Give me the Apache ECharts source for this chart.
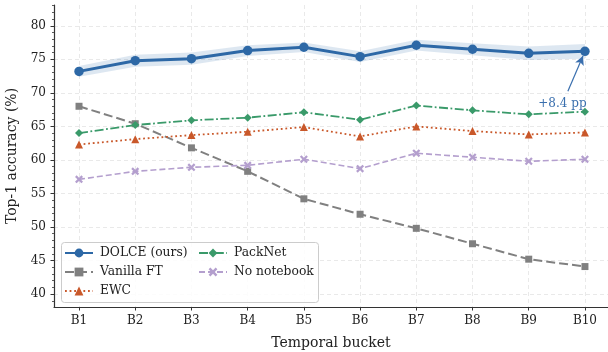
<!DOCTYPE html>
<html>
<head>
<meta charset="utf-8">
<script src="https://cdn.jsdelivr.net/npm/echarts@6/dist/echarts.min.js"></script>
<style>html,body{margin:0;padding:0;background:#fff;}#c{width:608px;height:352px;}</style>
</head>
<body>
<div id="c"></div>
<script>
const categories = ['B1','B2','B3','B4','B5','B6','B7','B8','B9','B10'];
const dolce    = [73.2, 74.8, 75.1, 76.3, 76.8, 75.4, 77.1, 76.5, 75.9, 76.2];
const dolceSd  = [0.8, 0.9, 0.9, 0.8, 0.7, 0.8, 0.8, 0.9, 1.0, 1.1];
const vanilla  = [68.0, 65.4, 61.8, 58.3, 54.2, 51.9, 49.8, 47.5, 45.2, 44.1];
const ewc      = [62.3, 63.1, 63.7, 64.2, 64.9, 63.5, 65.0, 64.3, 63.8, 64.1];
const packnet  = [64.0, 65.2, 65.9, 66.3, 67.1, 66.0, 68.1, 67.4, 66.8, 67.2];
const nonote   = [57.1, 58.3, 58.9, 59.2, 60.1, 58.7, 61.0, 60.4, 59.8, 60.1];
const yMajorTicks = [40, 45, 50, 55, 60, 65, 70, 75, 80];
const annotationText = '+8.4 pp';

const xs = categories.map((c, i) => i + 1);
const pairs = arr => arr.map((v, i) => [i + 1, v]);
const yMinor = [];
for (let v = 39; v <= 83; v++) if (v % 5 !== 0) yMinor.push(v);

const FONT = '"DejaVu Serif", serif';
const C_BLUE = '#2d68a6', C_GRAY = '#808080', C_RED = '#c9582a', C_GREEN = '#3a9a6a', C_PURPLE = '#b49fce';
const xMark = 'path://M2,0 L5,3 L8,0 L10,2 L7,5 L10,8 L8,10 L5,7 L2,10 L0,8 L3,5 L0,2 Z';

const chart = echarts.init(document.getElementById('c'), null, {renderer: 'canvas'});
const gridLine = {show: true, lineStyle: {color: '#e6e6e6', type: [4, 3], width: 0.9}};
chart.setOption({
  animation: false,
  backgroundColor: '#fff',
  grid: {left: 54, right: 0, top: 5, bottom: 45, containLabel: false, outerBoundsMode: 'none'},
  xAxis: {
    type: 'value', min: 0.555, max: 10.41,
    name: 'Temporal bucket', nameLocation: 'middle', nameGap: 29,
    nameTextStyle: {fontFamily: FONT, fontSize: 14, color: '#222'},
    axisLine: {show: true, lineStyle: {color: '#333', width: 1.2}},
    axisTick: {show: true, length: 3.5, customValues: xs, lineStyle: {color: '#333'}},
    axisLabel: {customValues: xs, formatter: v => categories[Math.round(v) - 1], fontFamily: FONT, fontSize: 12, color: '#222', margin: 8},
    splitLine: gridLine
  },
  yAxis: [{
    type: 'value', min: 38.07, max: 83.1, position: 'left',
    name: 'Top-1 accuracy (%)', nameLocation: 'middle', nameGap: 32,
    nameTextStyle: {fontFamily: FONT, fontSize: 14, color: '#222'},
    axisLine: {show: true, lineStyle: {color: '#333', width: 1.2}},
    axisTick: {show: true, length: 3.5, customValues: yMajorTicks, lineStyle: {color: '#333'}},
    axisLabel: {customValues: yMajorTicks, fontFamily: FONT, fontSize: 12, color: '#222', margin: 8},
    splitLine: gridLine
  }, {
    type: 'value', min: 38.07, max: 83.1, position: 'left',
    axisLine: {show: false},
    axisTick: {show: true, length: 2, customValues: yMinor, lineStyle: {color: '#333', width: 0.8}},
    axisLabel: {show: false},
    splitLine: {show: false}
  }],
  legend: [{
    data: ['DOLCE (ours)', 'Vanilla FT', 'EWC'], orient: 'vertical', left: 64, top: 247, padding: 0,
    itemWidth: 28, itemHeight: 11, itemGap: 7,
    textStyle: {fontFamily: FONT, fontSize: 12.3, color: '#222', padding: [0, 0, 0, 2]}
  }, {
    data: ['PackNet', 'No notebook'], orient: 'vertical', left: 198, top: 247, padding: 0,
    itemWidth: 28, itemHeight: 11, itemGap: 7,
    textStyle: {fontFamily: FONT, fontSize: 12.3, color: '#222', padding: [0, 0, 0, 2]}
  }],
  graphic: [{
    type: 'rect', left: 61, top: 242, z: 3, silent: true,
    shape: {width: 257, height: 60, r: 3},
    style: {fill: 'rgba(255,255,255,0.85)', stroke: '#cccccc', lineWidth: 1}
  }],
  series: [
    {
      type: 'custom', name: 'band', silent: true, z: 1,
      data: [0],
      renderItem: (params, api) => {
        const up = dolce.map((v, i) => api.coord([i + 1, v + dolceSd[i]]));
        const lo = dolce.map((v, i) => api.coord([i + 1, v - dolceSd[i]])).reverse();
        return {type: 'polygon', shape: {points: up.concat(lo)}, style: {fill: 'rgba(45,104,166,0.16)'}};
      }
    },
    {
      type: 'line', name: 'Vanilla FT', data: pairs(vanilla), z: 2,
      symbol: 'rect', symbolSize: 7,
      lineStyle: {color: C_GRAY, width: 2, type: [9, 4]}, itemStyle: {color: C_GRAY}
    },
    {
      type: 'line', name: 'EWC', data: pairs(ewc), z: 2,
      symbol: 'triangle', symbolSize: 8,
      lineStyle: {color: C_RED, width: 1.8, type: [1.8, 2.8]}, itemStyle: {color: C_RED}
    },
    {
      type: 'line', name: 'PackNet', data: pairs(packnet), z: 2,
      symbol: 'diamond', symbolSize: 8,
      lineStyle: {color: C_GREEN, width: 1.8, type: [9, 2.5, 1.8, 2.5]}, itemStyle: {color: C_GREEN}
    },
    {
      type: 'line', name: 'No notebook', data: pairs(nonote), z: 2,
      symbol: xMark, symbolSize: 8,
      lineStyle: {color: C_PURPLE, width: 1.6, type: [6, 3]}, itemStyle: {color: C_PURPLE}
    },
    {
      type: 'line', name: 'DOLCE (ours)', data: pairs(dolce), z: 2.5,
      symbol: 'circle', symbolSize: 9.5,
      lineStyle: {color: C_BLUE, width: 3}, itemStyle: {color: C_BLUE},
      markLine: {
        silent: true, symbol: ['none', 'arrow'], symbolSize: [7, 9],
        lineStyle: {color: '#3a6fae', width: 1.2, type: 'solid'},
        label: {show: false},
        data: [[{coord: [9.696, 70.25]}, {coord: [9.965, 75.5]}]]
      },
      markPoint: {
        silent: true, symbol: 'circle', symbolSize: 0,
        label: {show: true, formatter: annotationText, fontFamily: FONT, fontSize: 12, color: '#3a6fae', position: 'inside'},
        data: [{coord: [9.6, 68.4]}]
      }
    }
  ]
});
</script>
</body>
</html>
